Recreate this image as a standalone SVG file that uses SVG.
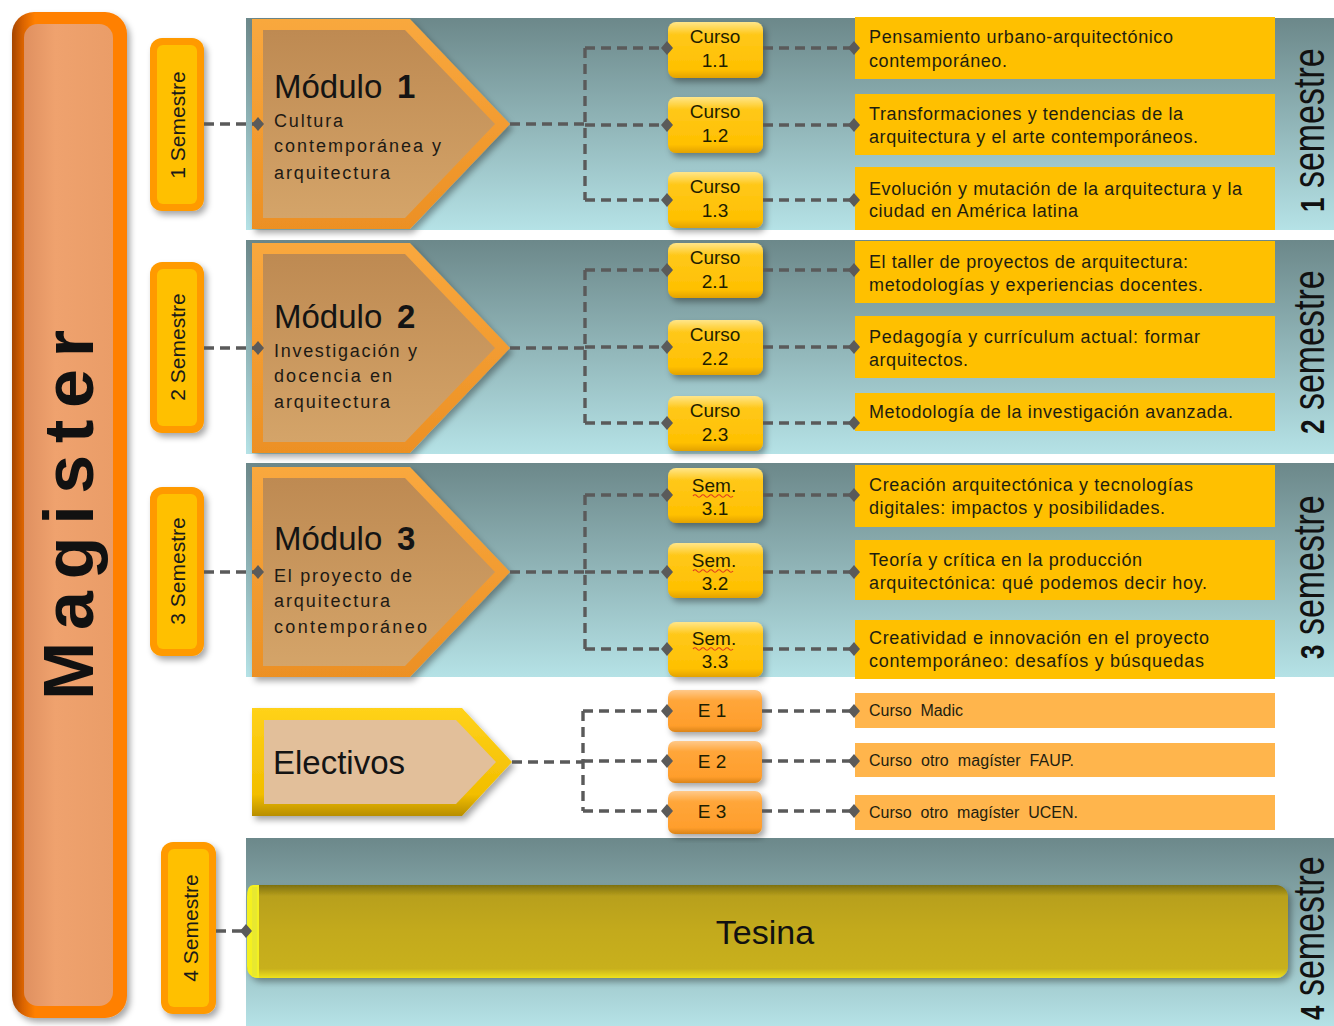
<svg xmlns="http://www.w3.org/2000/svg" width="1334" height="1026" viewBox="0 0 1334 1026">
<style>
.ff{font-family:"Liberation Sans",Arial,sans-serif;}
.dash{fill:none;stroke:#5A5A5A;stroke-width:3.4;stroke-dasharray:10 6;}
.tb{fill:#FFC000;}
.tbe{fill:#FFB54C;}
.tt{font-family:"Liberation Sans",Arial,sans-serif;font-size:18px;fill:#1E1E10;}
.te{font-family:"Liberation Sans",Arial,sans-serif;font-size:16px;fill:#1E1E10;white-space:pre;}
.ct{font-family:"Liberation Sans",Arial,sans-serif;font-size:19px;fill:#1E1E00;text-anchor:middle;}
.mh{font-family:"Liberation Sans",Arial,sans-serif;font-size:33px;fill:#141414;}
.ms{font-family:"Liberation Sans",Arial,sans-serif;font-size:18px;fill:#1E1A14;}
.sl{font-family:"Liberation Sans",Arial,sans-serif;font-size:21px;fill:#1A1A1A;text-anchor:middle;}
.rs{font-family:"Liberation Sans",Arial,sans-serif;font-size:34px;fill:#111;}
.sq{fill:none;stroke:#E03A20;stroke-width:1.2;}
</style>
<defs>
<linearGradient id="band" x1="0" y1="0" x2="0" y2="1">
<stop offset="0" stop-color="#6C888A"/><stop offset="1" stop-color="#B5E2E6"/>
</linearGradient>
<linearGradient id="modIn" x1="0" y1="0" x2="0" y2="1">
<stop offset="0" stop-color="#BE8A52"/><stop offset="1" stop-color="#D4A469"/>
</linearGradient>
<linearGradient id="modOut" x1="0" y1="0" x2="0" y2="1">
<stop offset="0" stop-color="#F9A83E"/><stop offset="1" stop-color="#EC9024"/>
</linearGradient>
<linearGradient id="elOut" x1="0" y1="0" x2="0" y2="1">
<stop offset="0" stop-color="#FFD21A"/><stop offset="0.8" stop-color="#F2BE00"/><stop offset="1" stop-color="#B88E00"/>
</linearGradient>
<linearGradient id="cur" x1="0" y1="0" x2="0" y2="1">
<stop offset="0" stop-color="#FFE68A"/><stop offset="0.22" stop-color="#FFC81A"/><stop offset="0.85" stop-color="#FFC000"/><stop offset="1" stop-color="#E3A200"/>
</linearGradient>
<linearGradient id="eb" x1="0" y1="0" x2="0" y2="1">
<stop offset="0" stop-color="#FFC98A"/><stop offset="0.25" stop-color="#FFA63A"/><stop offset="0.85" stop-color="#FF9E2C"/><stop offset="1" stop-color="#DB8418"/>
</linearGradient>
<linearGradient id="tes" x1="0" y1="0" x2="0" y2="1">
<stop offset="0" stop-color="#7E7110"/><stop offset="0.12" stop-color="#B8A01C"/><stop offset="0.5" stop-color="#C3AA1F"/><stop offset="0.9" stop-color="#C8B01E"/><stop offset="1" stop-color="#EEE21E"/>
</linearGradient>
<linearGradient id="mag" x1="0" y1="0" x2="1" y2="0">
<stop offset="0" stop-color="#A34400"/><stop offset="0.09" stop-color="#D86200"/><stop offset="0.2" stop-color="#FF8000"/><stop offset="1" stop-color="#FF8000"/>
</linearGradient>
<linearGradient id="magIn" x1="0" y1="0" x2="1" y2="0">
<stop offset="0" stop-color="#DF9060"/><stop offset="0.35" stop-color="#EFA26E"/><stop offset="1" stop-color="#EA9D68"/>
</linearGradient>
<filter id="sh" x="-10%" y="-10%" width="130%" height="130%">
<feDropShadow dx="3" dy="4" stdDeviation="3" flood-color="#000" flood-opacity="0.35"/>
</filter>
<marker id="dia" markerUnits="userSpaceOnUse" markerWidth="12" markerHeight="14" refX="6" refY="7" orient="auto">
<path d="M0,7 L6,0 L12,7 L6,14 Z" fill="#5A5A5A"/>
</marker>
</defs>
<rect width="1334" height="1026" fill="#FFFFFF"/>

<g id="bands">
<rect x="246" y="18" width="1088" height="212" fill="url(#band)"/>
<rect x="246" y="240" width="1088" height="214" fill="url(#band)"/>
<rect x="246" y="463" width="1088" height="214" fill="url(#band)"/>
<rect x="246" y="838" width="1088" height="188" fill="url(#band)"/>
</g>

<g id="magister">
<rect x="12" y="12" width="115" height="1006" rx="22" fill="url(#mag)" filter="url(#sh)"/>
<rect x="24" y="24" width="89" height="982" rx="14" fill="url(#magIn)"/>
<text class="ff" transform="translate(93,700) rotate(-90)" font-size="70" font-weight="bold" fill="#111" textLength="370" lengthAdjust="spacing">Magister</text>
</g>

<g id="sem1">
<rect x="150" y="38" width="54" height="173" rx="12" fill="#FF9A00" filter="url(#sh)"/>
<rect x="157" y="45" width="40" height="159" rx="6" fill="#FFC000"/>
<text class="sl" transform="translate(185,125) rotate(-90)">1 Semestre</text>
</g>
<g id="sem2">
<rect x="150" y="262" width="54" height="171" rx="12" fill="#FF9A00" filter="url(#sh)"/>
<rect x="157" y="269" width="40" height="157" rx="6" fill="#FFC000"/>
<text class="sl" transform="translate(185,347) rotate(-90)">2 Semestre</text>
</g>
<g id="sem3">
<rect x="150" y="487" width="54" height="169" rx="12" fill="#FF9A00" filter="url(#sh)"/>
<rect x="157" y="494" width="40" height="155" rx="6" fill="#FFC000"/>
<text class="sl" transform="translate(185,571) rotate(-90)">3 Semestre</text>
</g>
<g id="sem4">
<rect x="161" y="842" width="55" height="172" rx="12" fill="#FF9A00" filter="url(#sh)"/>
<rect x="168" y="849" width="41" height="158" rx="6" fill="#FFC000"/>
<text class="sl" transform="translate(198,928) rotate(-90)">4 Semestre</text>
</g>

<g id="modulo1" transform="translate(0,19)">
<polygon points="252,0 410,0 510,105 410,210 252,210" fill="url(#modOut)" filter="url(#sh)"/>
<polygon points="263,11 405,11 495,105 405,199 263,199" fill="url(#modIn)"/>
<text class="mh" x="274" y="79">Módulo <tspan x="397" font-weight="bold">1</tspan></text>
<text class="ms" x="274" y="108" textLength="69" lengthAdjust="spacing">Cultura</text>
<text class="ms" x="274" y="133" textLength="167" lengthAdjust="spacing">contemporánea y</text>
<text class="ms" x="274" y="160" textLength="116" lengthAdjust="spacing">arquitectura</text>
</g>
<g id="modulo2" transform="translate(0,243)">
<polygon points="252,0 410,0 510,105 410,210 252,210" fill="url(#modOut)" filter="url(#sh)"/>
<polygon points="263,11 405,11 495,105 405,199 263,199" fill="url(#modIn)"/>
<text class="mh" x="274" y="85">Módulo <tspan x="397" font-weight="bold">2</tspan></text>
<text class="ms" x="274" y="114" textLength="143" lengthAdjust="spacing">Investigación y</text>
<text class="ms" x="274" y="139" textLength="118" lengthAdjust="spacing">docencia en</text>
<text class="ms" x="274" y="165" textLength="116" lengthAdjust="spacing">arquitectura</text>
</g>
<g id="modulo3" transform="translate(0,467)">
<polygon points="252,0 410,0 510,105 410,210 252,210" fill="url(#modOut)" filter="url(#sh)"/>
<polygon points="263,11 405,11 495,105 405,199 263,199" fill="url(#modIn)"/>
<text class="mh" x="274" y="83">Módulo <tspan x="397" font-weight="bold">3</tspan></text>
<text class="ms" x="274" y="115" textLength="138" lengthAdjust="spacing">El proyecto de</text>
<text class="ms" x="274" y="140" textLength="116" lengthAdjust="spacing">arquitectura</text>
<text class="ms" x="274" y="166" textLength="153" lengthAdjust="spacing">contemporáneo</text>
</g>

<g id="electivos">
<polygon points="252,708 462,708 512,762 462,816 252,816" fill="url(#elOut)" filter="url(#sh)"/>
<polygon points="264,720 456,720 496,762 456,804 264,804" fill="#E2BF9A"/>
<text class="mh" x="273" y="774">Electivos</text>
</g>

<g id="curso11"><rect x="668" y="22" width="95" height="56" rx="8" fill="url(#cur)" filter="url(#sh)"/><text class="ct" x="715" y="43">Curso</text><text class="ct" x="715" y="67">1.1</text></g>
<g id="curso12"><rect x="668" y="97" width="95" height="56" rx="8" fill="url(#cur)" filter="url(#sh)"/><text class="ct" x="715" y="118">Curso</text><text class="ct" x="715" y="142">1.2</text></g>
<g id="curso13"><rect x="668" y="172" width="95" height="56" rx="8" fill="url(#cur)" filter="url(#sh)"/><text class="ct" x="715" y="193">Curso</text><text class="ct" x="715" y="217">1.3</text></g>
<g id="curso21"><rect x="668" y="243" width="95" height="55" rx="8" fill="url(#cur)" filter="url(#sh)"/><text class="ct" x="715" y="264">Curso</text><text class="ct" x="715" y="288">2.1</text></g>
<g id="curso22"><rect x="668" y="320" width="95" height="55" rx="8" fill="url(#cur)" filter="url(#sh)"/><text class="ct" x="715" y="341">Curso</text><text class="ct" x="715" y="365">2.2</text></g>
<g id="curso23"><rect x="668" y="396" width="95" height="55" rx="8" fill="url(#cur)" filter="url(#sh)"/><text class="ct" x="715" y="417">Curso</text><text class="ct" x="715" y="441">2.3</text></g>
<g id="sem31"><rect x="668" y="468" width="95" height="55" rx="8" fill="url(#cur)" filter="url(#sh)"/><text class="ct" x="714" y="492">Sem.</text><path class="sq" d="M693,496 q2,-2.5 4,0 t4,0 t4,0 t4,0 t4,0 t4,0 t4,0 t4,0 t4,0 t4,0"/><text class="ct" x="715" y="515">3.1</text></g>
<g id="sem32"><rect x="668" y="543" width="95" height="55" rx="8" fill="url(#cur)" filter="url(#sh)"/><text class="ct" x="714" y="567">Sem.</text><path class="sq" d="M693,571 q2,-2.5 4,0 t4,0 t4,0 t4,0 t4,0 t4,0 t4,0 t4,0 t4,0 t4,0"/><text class="ct" x="715" y="590">3.2</text></g>
<g id="sem33"><rect x="668" y="622" width="95" height="55" rx="8" fill="url(#cur)" filter="url(#sh)"/><text class="ct" x="714" y="645">Sem.</text><path class="sq" d="M693,649 q2,-2.5 4,0 t4,0 t4,0 t4,0 t4,0 t4,0 t4,0 t4,0 t4,0 t4,0"/><text class="ct" x="715" y="668">3.3</text></g>

<g id="e1"><rect x="668" y="690" width="94" height="42" rx="7" fill="url(#eb)" filter="url(#sh)"/><text class="ct" x="712" y="717" font-size="17">E 1</text></g>
<g id="e2"><rect x="668" y="741" width="94" height="42" rx="7" fill="url(#eb)" filter="url(#sh)"/><text class="ct" x="712" y="768" font-size="17">E 2</text></g>
<g id="e3"><rect x="668" y="791" width="94" height="43" rx="7" fill="url(#eb)" filter="url(#sh)"/><text class="ct" x="712" y="818" font-size="17">E 3</text></g>

<g id="t11"><rect class="tb" x="855" y="17" width="420" height="62"/><text class="tt" x="869" y="43" textLength="304" lengthAdjust="spacing">Pensamiento urbano-arquitectónico</text><text class="tt" x="869" y="67" textLength="138" lengthAdjust="spacing">contemporáneo.</text></g>
<g id="t12"><rect class="tb" x="855" y="94" width="420" height="61"/><text class="tt" x="869" y="120" textLength="314" lengthAdjust="spacing">Transformaciones y tendencias de la</text><text class="tt" x="869" y="143" textLength="329" lengthAdjust="spacing">arquitectura y el arte contemporáneos.</text></g>
<g id="t13"><rect class="tb" x="855" y="167" width="420" height="63"/><text class="tt" x="869" y="195" textLength="373" lengthAdjust="spacing">Evolución y mutación de la arquitectura y la</text><text class="tt" x="869" y="217" textLength="209" lengthAdjust="spacing">ciudad en América latina</text></g>
<g id="t21"><rect class="tb" x="855" y="241" width="420" height="62"/><text class="tt" x="869" y="268" textLength="319" lengthAdjust="spacing">El taller de proyectos de arquitectura:</text><text class="tt" x="869" y="291" textLength="334" lengthAdjust="spacing">metodologías y experiencias docentes.</text></g>
<g id="t22"><rect class="tb" x="855" y="316" width="420" height="62"/><text class="tt" x="869" y="343" textLength="331" lengthAdjust="spacing">Pedagogía y currículum actual: formar</text><text class="tt" x="869" y="366" textLength="99" lengthAdjust="spacing">arquitectos.</text></g>
<g id="t23"><rect class="tb" x="855" y="393" width="420" height="38"/><text class="tt" x="869" y="418" textLength="364" lengthAdjust="spacing">Metodología de la investigación avanzada.</text></g>
<g id="t31"><rect class="tb" x="855" y="465" width="420" height="62"/><text class="tt" x="869" y="491" textLength="324" lengthAdjust="spacing">Creación arquitectónica y tecnologías</text><text class="tt" x="869" y="514" textLength="296" lengthAdjust="spacing">digitales: impactos y posibilidades.</text></g>
<g id="t32"><rect class="tb" x="855" y="540" width="420" height="60"/><text class="tt" x="869" y="566" textLength="273" lengthAdjust="spacing">Teoría y crítica en la producción</text><text class="tt" x="869" y="589" textLength="338" lengthAdjust="spacing">arquitectónica: qué podemos decir hoy.</text></g>
<g id="t33"><rect class="tb" x="855" y="620" width="420" height="59"/><text class="tt" x="869" y="644" textLength="340" lengthAdjust="spacing">Creatividad e innovación en el proyecto</text><text class="tt" x="869" y="667" textLength="335" lengthAdjust="spacing">contemporáneo: desafíos y búsquedas</text></g>

<g id="te1"><rect class="tbe" x="855" y="693" width="420" height="35"/><text class="te" x="869" y="716" textLength="94" lengthAdjust="spacing">Curso  Madic</text></g>
<g id="te2"><rect class="tbe" x="855" y="743" width="420" height="34"/><text class="te" x="869" y="766" textLength="205" lengthAdjust="spacing">Curso  otro  magíster  FAUP.</text></g>
<g id="te3"><rect class="tbe" x="855" y="795" width="420" height="35"/><text class="te" x="869" y="818" textLength="209" lengthAdjust="spacing">Curso  otro  magíster  UCEN.</text></g>

<g id="tesina">
<rect x="247" y="885" width="1041" height="93" rx="12" fill="url(#tes)" filter="url(#sh)"/>
<path d="M259,885 H253 Q247,885 247,897 V966 Q247,978 259,978 Z" fill="#F4F020"/>
<rect x="252" y="887" width="5" height="89" fill="#E8E830"/>
<text class="ff" x="765" y="944" font-size="34" fill="#111" text-anchor="middle">Tesina</text>
</g>

<g id="labels-right">
<text class="rs" transform="translate(1324,212) rotate(-90) scale(1,1.3)"><tspan font-weight="bold" font-size="26">1</tspan> semestre</text>
<text class="rs" transform="translate(1324,434) rotate(-90) scale(1,1.3)"><tspan font-weight="bold" font-size="26">2</tspan> semestre</text>
<text class="rs" transform="translate(1324,659) rotate(-90) scale(1,1.3)"><tspan font-weight="bold" font-size="26">3</tspan> semestre</text>
<text class="rs" transform="translate(1324,1020) rotate(-90) scale(1,1.3)"><tspan font-weight="bold" font-size="26">4</tspan> semestre</text>
</g>

<g id="connectors">
<path class="dash" d="M204,124 H258" marker-end="url(#dia)"/>
<path class="dash" d="M204,348 H258" marker-end="url(#dia)"/>
<path class="dash" d="M204,572 H258" marker-end="url(#dia)"/>
<path class="dash" d="M216,931 H246" marker-end="url(#dia)"/>

<path class="dash" d="M510,124 H585"/>
<path class="dash" d="M585,48 V200"/>
<path class="dash" d="M585,48 H667" marker-end="url(#dia)"/>
<path class="dash" d="M585,125 H667" marker-end="url(#dia)"/>
<path class="dash" d="M585,200 H667" marker-end="url(#dia)"/>
<path class="dash" d="M763,48 H854" marker-end="url(#dia)"/>
<path class="dash" d="M763,125 H854" marker-end="url(#dia)"/>
<path class="dash" d="M763,200 H854" marker-end="url(#dia)"/>

<path class="dash" d="M510,348 H585"/>
<path class="dash" d="M585,270 V423"/>
<path class="dash" d="M585,270 H667" marker-end="url(#dia)"/>
<path class="dash" d="M585,347 H667" marker-end="url(#dia)"/>
<path class="dash" d="M585,423 H667" marker-end="url(#dia)"/>
<path class="dash" d="M763,270 H854" marker-end="url(#dia)"/>
<path class="dash" d="M763,347 H854" marker-end="url(#dia)"/>
<path class="dash" d="M763,423 H854" marker-end="url(#dia)"/>

<path class="dash" d="M510,572 H585"/>
<path class="dash" d="M585,495 V649"/>
<path class="dash" d="M585,495 H667" marker-end="url(#dia)"/>
<path class="dash" d="M585,572 H667" marker-end="url(#dia)"/>
<path class="dash" d="M585,649 H667" marker-end="url(#dia)"/>
<path class="dash" d="M763,495 H854" marker-end="url(#dia)"/>
<path class="dash" d="M763,572 H854" marker-end="url(#dia)"/>
<path class="dash" d="M763,649 H854" marker-end="url(#dia)"/>

<path class="dash" d="M512,762 H583"/>
<path class="dash" d="M583,711 V811"/>
<path class="dash" d="M583,711 H667" marker-end="url(#dia)"/>
<path class="dash" d="M583,761 H667" marker-end="url(#dia)"/>
<path class="dash" d="M583,811 H667" marker-end="url(#dia)"/>
<path class="dash" d="M762,711 H854" marker-end="url(#dia)"/>
<path class="dash" d="M762,761 H854" marker-end="url(#dia)"/>
<path class="dash" d="M762,811 H854" marker-end="url(#dia)"/>
</g>
</svg>
